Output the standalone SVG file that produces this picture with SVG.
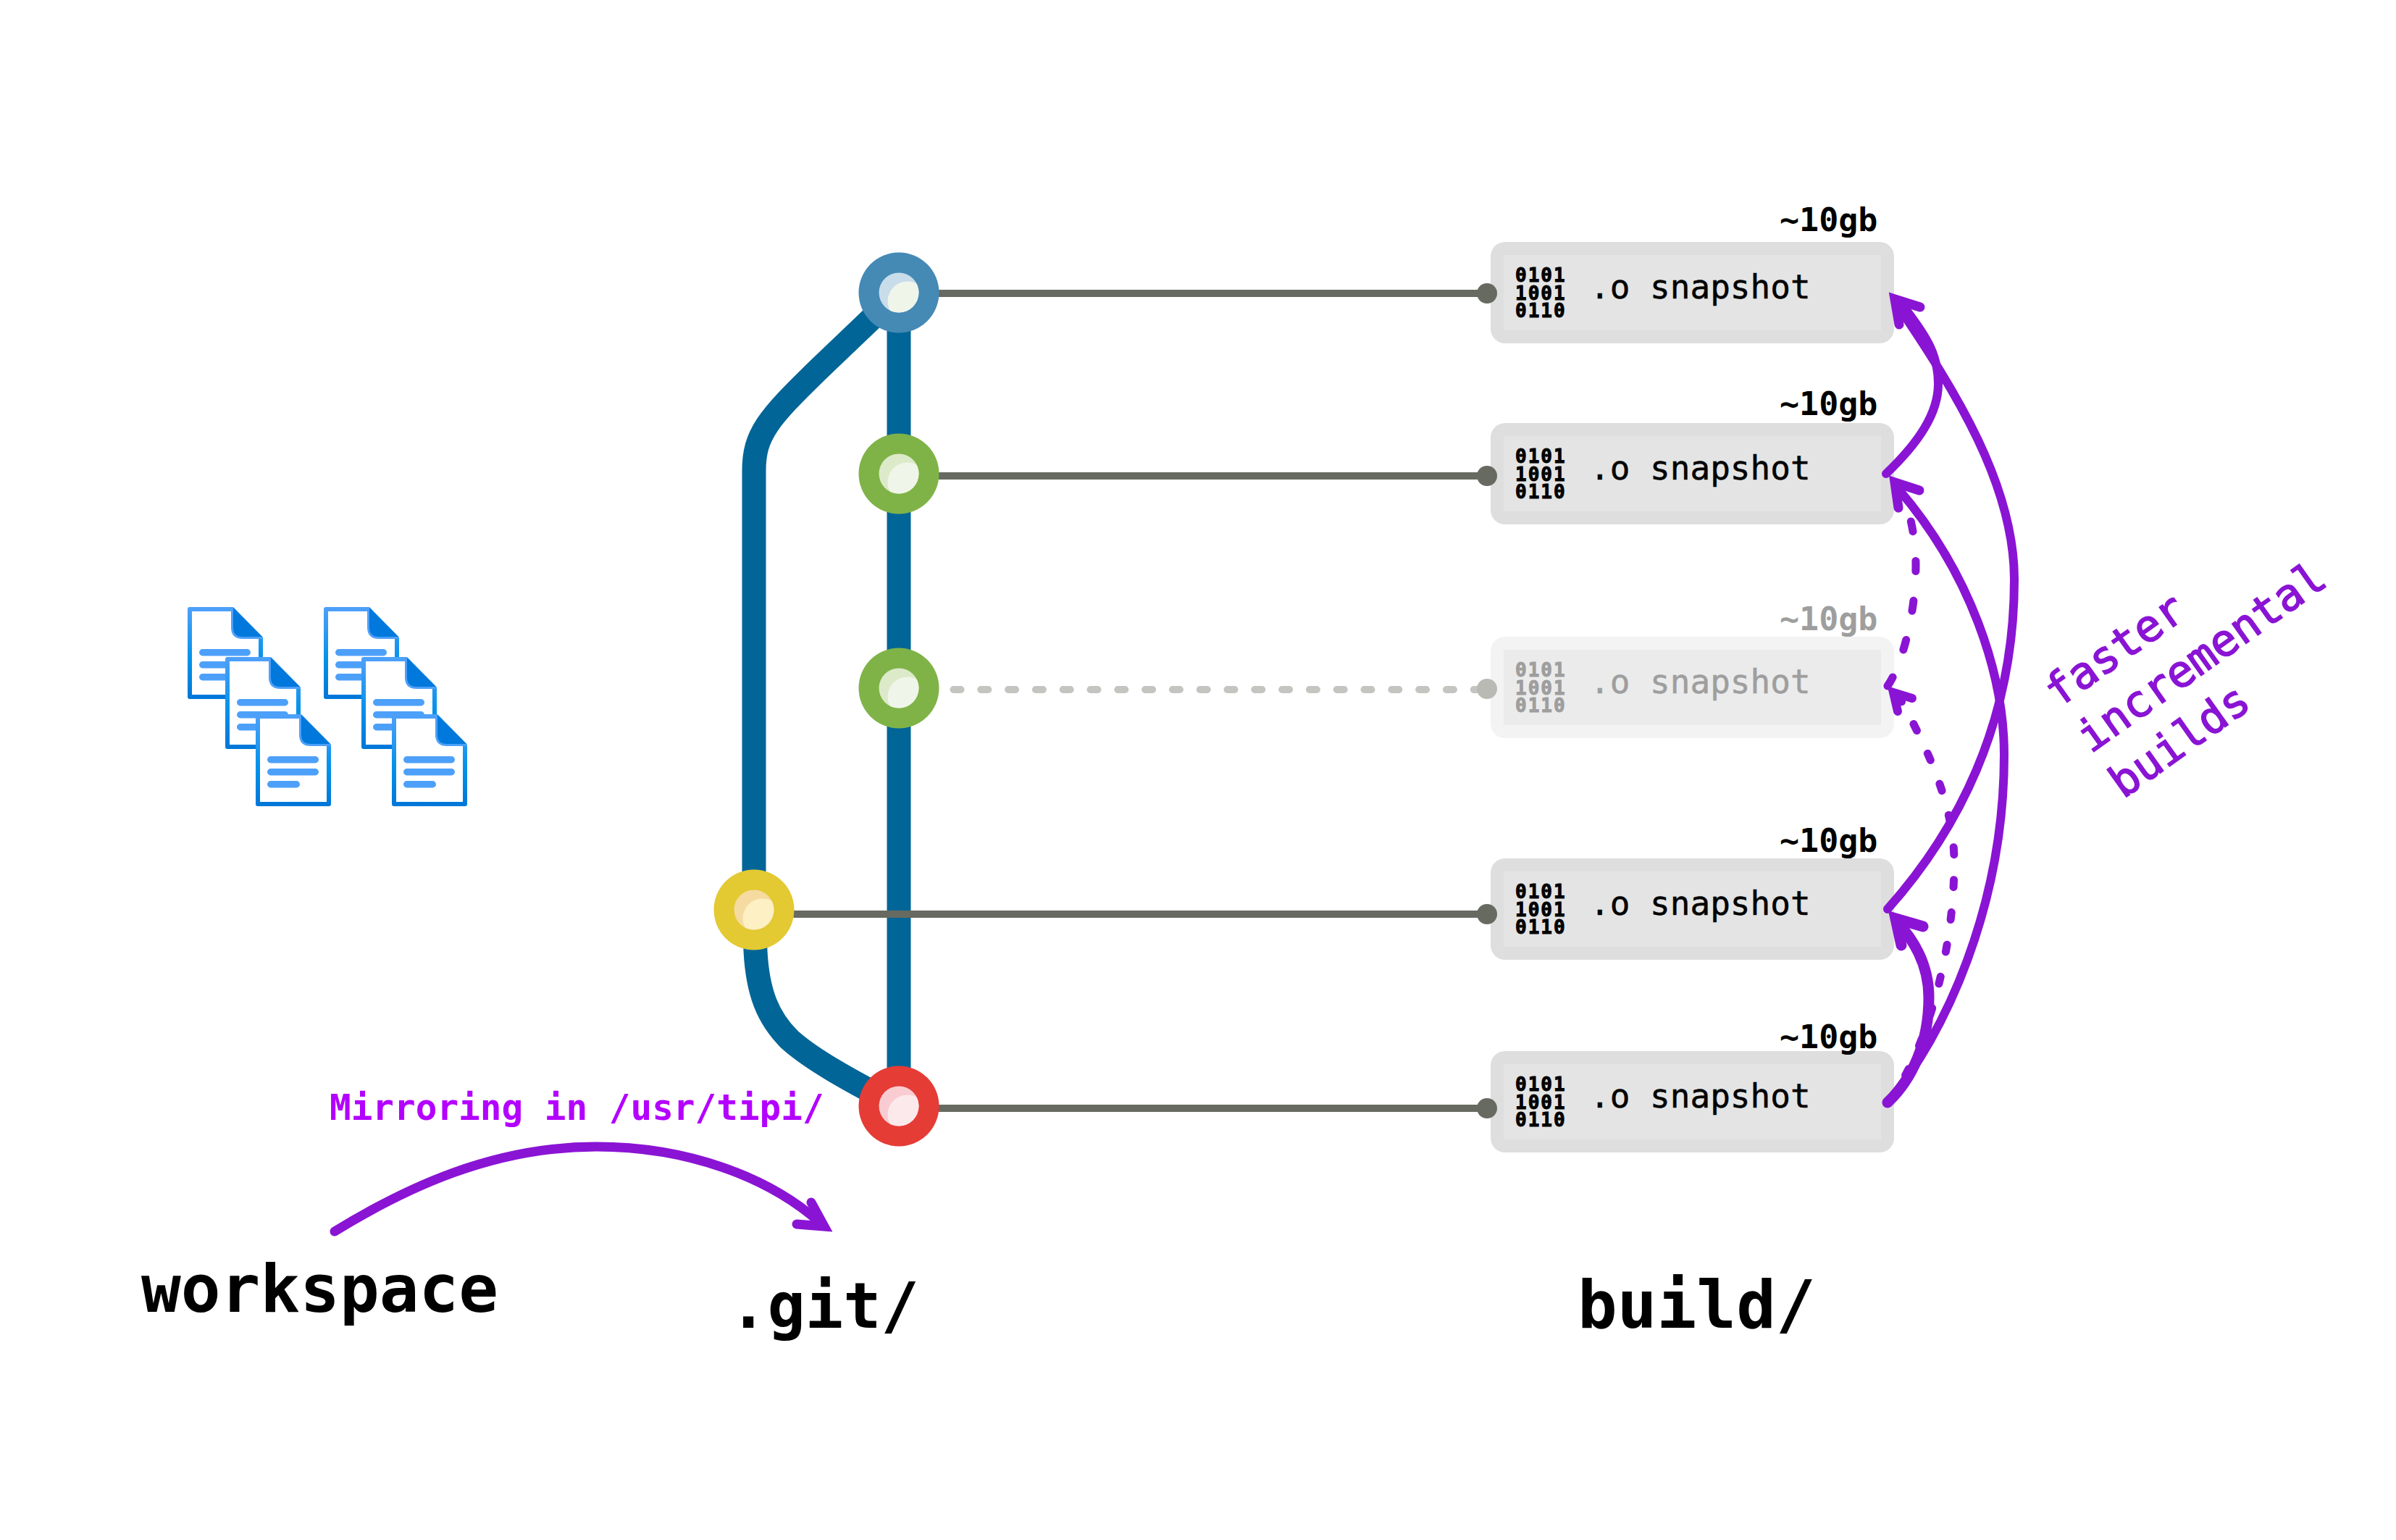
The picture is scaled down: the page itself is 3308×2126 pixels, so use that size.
<svg xmlns="http://www.w3.org/2000/svg" xmlns:xlink="http://www.w3.org/1999/xlink" width="3308" height="2126" viewBox="0 0 3308 2126">
<style>
text{font-family:"DejaVu Sans Mono","Liberation Mono",monospace}
.branch{fill:none;stroke:#026597;stroke-width:33}
.link{fill:none;stroke:#676a60;stroke-width:10;stroke-linecap:round}
.arc{fill:none;stroke:#8a14d4;stroke-width:12;stroke-linecap:round}
.dash{fill:none;stroke:#8a14d4;stroke-width:11;stroke-linecap:round}
.head{fill:none;stroke:#8a14d4;stroke-width:13;stroke-linecap:round;stroke-linejoin:miter;stroke-miterlimit:10}
.outer{fill:#dedede}.inner{fill:#e4e4e4}
.size{font-size:45px;font-weight:700}
.snap{font-size:46px;stroke:currentColor;stroke-width:.5}
.bin{font-size:26px;font-weight:700;letter-spacing:2px;stroke:currentColor;stroke-width:1}
.title{font-size:91px;font-weight:700}
.port{fill:#676a60}
.faded{color:#9e9e9e}
.faded .outer{fill:#f3f3f3}.faded .inner{fill:#ebebeb}
.faded text{fill:#9e9e9e}
.faded .port{fill:#b9bab3}
.note{font-size:61px;fill:#8a14d4;stroke:#8a14d4;stroke-width:1.6}
</style>
<defs>
<linearGradient id="docg" x1="0" y1="0" x2="0" y2="1"><stop offset="0" stop-color="#4da0f9"/><stop offset=".6" stop-color="#0091ea"/><stop offset="1" stop-color="#0078d9"/></linearGradient>
<clipPath id="hole"><circle r="27.5"/></clipPath>
<symbol id="doc" overflow="visible">
<path d="M3,3H62L101,43V124H3Z" fill="#fff" stroke="url(#docg)" stroke-width="6" stroke-linejoin="round"/>
<path d="M60,1H62L104,44H76Q60,44 60,28Z" fill="#4da0f9"/>
<path d="M63,1L103,41H76Q63,41 63,28Z" fill="#0078dc"/>
<g fill="#4da0f9"><rect x="16" y="58" width="71" height="9.5" rx="4.7"/><rect x="16" y="75" width="71" height="9.5" rx="4.7"/><rect x="16" y="92" width="45" height="9.5" rx="4.7"/></g>
</symbol>
</defs>
<rect width="3308" height="2126" fill="#fff"/>

<g id="connectors">
<path class="branch" d="M1241,404V1527"/>
<path class="branch" d="M1241,404L1130,510C1060,578 1041,600 1041,650V1256"/>
<path class="branch" d="M1041,1256L1043,1313C1046,1370 1060,1405 1090,1435C1120,1462 1170,1490 1241,1527"/>
<path class="link" d="M1296,405H2053"/>
<path class="link" d="M1296,657H2053"/>
<path class="link" style="stroke:#c4c4c0;stroke-dasharray:10 27.8" d="M1316.5,952H2053"/>
<path class="link" d="M1096,1262H2053"/>
<path class="link" d="M1296,1530H2053"/>
</g>

<g id="node-blue"><circle cx="1241" cy="404" r="55.5" fill="#4589b5"/><g transform="translate(1241,404)"><circle r="27.5" fill="#c8dcea"/><circle cx="12" cy="12" r="27.5" fill="#f0f5e9" clip-path="url(#hole)"/></g></g>
<g id="node-green1"><circle cx="1241" cy="654" r="55.5" fill="#7fb347"/><g transform="translate(1241,654)"><circle r="27.5" fill="#dceaca"/><circle cx="12" cy="12" r="27.5" fill="#f0f5e9" clip-path="url(#hole)"/></g></g>
<g id="node-green2"><circle cx="1241" cy="950" r="55.5" fill="#7fb347"/><g transform="translate(1241,950)"><circle r="27.5" fill="#dceaca"/><circle cx="12" cy="12" r="27.5" fill="#f0f5e9" clip-path="url(#hole)"/></g></g>
<g id="node-yellow"><circle cx="1041" cy="1256" r="55.5" fill="#e3c932"/><g transform="translate(1041,1256)"><circle r="27.5" fill="#f5dba0"/><circle cx="12" cy="12" r="27.5" fill="#fdf0c4" clip-path="url(#hole)"/></g></g>
<g id="node-red"><circle cx="1241" cy="1527" r="55.5" fill="#e53c36"/><g transform="translate(1241,1527)"><circle r="27.5" fill="#f9ccd2"/><circle cx="12" cy="12" r="27.5" fill="#fce9eb" clip-path="url(#hole)"/></g></g>

<g id="snapshot-1" transform="translate(0,0)">
<rect class="outer" x="2058" y="334" width="557" height="140" rx="20"/><rect class="inner" x="2076" y="352" width="521" height="104"/>
<circle class="port" cx="2053" cy="405" r="14"/>
<text class="size" x="2457" y="319">~10gb</text>
<text class="bin" x="2092" y="389">0101</text><text class="bin" x="2092" y="414">1001</text><text class="bin" x="2092" y="438">0110</text>
<text class="snap" x="2195" y="412">.o snapshot</text>
</g>
<g id="snapshot-2" transform="translate(0,250)">
<rect class="outer" x="2058" y="334" width="557" height="140" rx="20"/><rect class="inner" x="2076" y="352" width="521" height="104"/>
<circle class="port" cx="2053" cy="407" r="14"/>
<text class="size" x="2457" y="323">~10gb</text>
<text class="bin" x="2092" y="389">0101</text><text class="bin" x="2092" y="414">1001</text><text class="bin" x="2092" y="438">0110</text>
<text class="snap" x="2195" y="412">.o snapshot</text>
</g>
<g id="snapshot-3" class="faded" transform="translate(0,545)">
<rect class="outer" x="2058" y="334" width="557" height="140" rx="20"/><rect class="inner" x="2076" y="352" width="521" height="104"/>
<circle class="port" cx="2053" cy="406" r="14"/>
<text class="size" x="2457" y="325">~10gb</text>
<text class="bin" x="2092" y="389">0101</text><text class="bin" x="2092" y="414">1001</text><text class="bin" x="2092" y="438">0110</text>
<text class="snap" x="2195" y="412">.o snapshot</text>
</g>
<g id="snapshot-4" transform="translate(0,851)">
<rect class="outer" x="2058" y="334" width="557" height="140" rx="20"/><rect class="inner" x="2076" y="352" width="521" height="104"/>
<circle class="port" cx="2053" cy="411" r="14"/>
<text class="size" x="2457" y="325">~10gb</text>
<text class="bin" x="2092" y="389">0101</text><text class="bin" x="2092" y="414">1001</text><text class="bin" x="2092" y="438">0110</text>
<text class="snap" x="2195" y="412">.o snapshot</text>
</g>
<g id="snapshot-5" transform="translate(0,1117)">
<rect class="outer" x="2058" y="334" width="557" height="140" rx="20"/><rect class="inner" x="2076" y="352" width="521" height="104"/>
<circle class="port" cx="2053" cy="413" r="14"/>
<text class="size" x="2457" y="330">~10gb</text>
<text class="bin" x="2092" y="389">0101</text><text class="bin" x="2092" y="414">1001</text><text class="bin" x="2092" y="438">0110</text>
<text class="snap" x="2195" y="412">.o snapshot</text>
</g>

<g id="documents">
<use xlink:href="#doc" href="#doc" x="259" y="838"/>
<use xlink:href="#doc" href="#doc" x="311" y="907"/>
<use xlink:href="#doc" href="#doc" x="353" y="986"/>
<use xlink:href="#doc" href="#doc" x="447" y="838"/>
<use xlink:href="#doc" href="#doc" x="499" y="907"/>
<use xlink:href="#doc" href="#doc" x="541" y="986"/>
</g>

<g id="arrows">
<path class="arc" d="M2606,1255C2700,1150 2781,1000 2781,800C2781,670 2700,540 2620,422"/>
<path class="head" d="M2651,424L2616,413L2622,448"/>
<path class="arc" d="M2604,654C2650,610 2676,570 2676,530C2676,490 2660,465 2632,428"/>
<path class="arc" d="M2606,1522C2685,1430 2767,1250 2767,1042C2767,930 2720,790 2620,674"/>
<path class="head" d="M2650,677L2616,666L2621,701"/>
<path class="arc" style="stroke-width:15" d="M2606,1522C2640,1490 2663,1440 2663,1377C2663,1330 2640,1295 2620,1274"/>
<path class="head" style="stroke-width:15" d="M2655,1279L2617,1268L2625,1305"/>
<path class="dash" style="stroke-dasharray:10 35" d="M2606,1522C2650,1470 2698,1330 2698,1190C2698,1110 2660,1030 2618,955"/>
<path class="head" style="stroke-width:12" d="M2640,964L2614,956L2620,982"/>
<path class="dash" style="stroke-dasharray:14 41" d="M2606,947C2625,920 2645,850 2645,780C2645,750 2640,720 2630,690"/>
<path class="arc" style="stroke-width:13" d="M462,1700C560,1640 680,1583 823,1583C950,1583 1060,1625 1130,1686"/>
<path class="head" d="M1120,1660L1138,1693L1100,1690"/>
</g>

<g id="labels">
<text x="455" y="1546" style="font-size:49.3px;font-weight:700;fill:#b300ff">Mirroring in /usr/tipi/</text>
<text class="title" x="195" y="1811">workspace</text>
<text class="title" style="font-size:87px" x="1007" y="1833">.git/</text>
<text class="title" x="2178" y="1833">build/</text>
<g id="note" transform="translate(2842,978) rotate(-35.4)">
<text class="note" x="0" y="0">faster</text>
<text class="note" x="0" y="77">incremental</text>
<text class="note" x="0" y="154">builds</text>
</g>
</g>
</svg>
